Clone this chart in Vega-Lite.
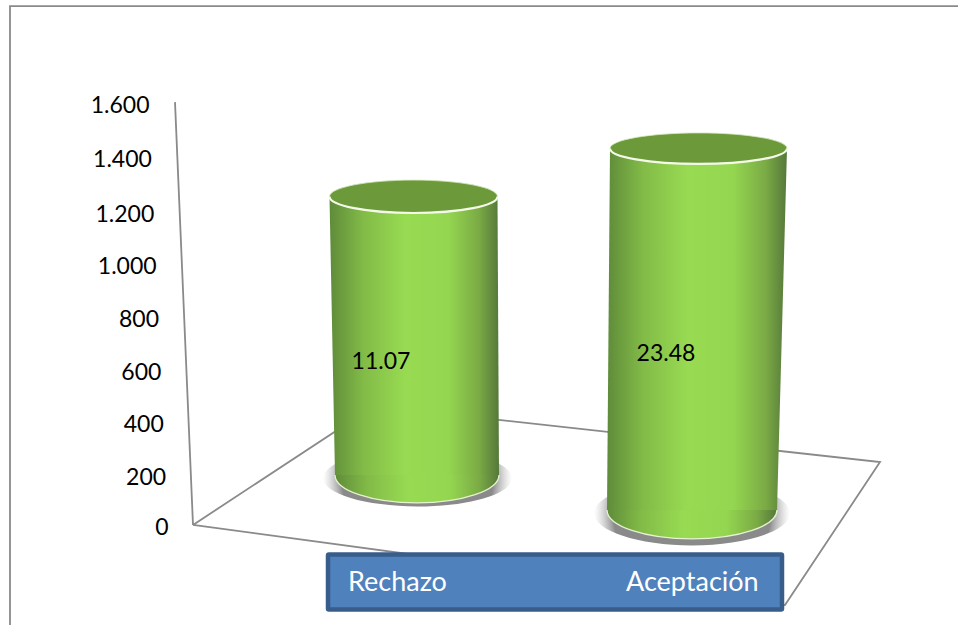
{
"$schema":"https://vega.github.io/schema/vega-lite/v6.json",
"width":958,"height":625,"padding":0,"autosize":{"type":"none"},
"background":"white",
"config":{"view":{"stroke":null},"font":"Lato"},
"datasets":{
"cilindros":[
{"categoria":"Rechazo","valor":1252,"base":194,"etiqueta":"11.07","xSup":413.5,"xInf":417,"xEtiqueta":381,"vEtiqueta":623,"xSombra":417.5,"vSombra":182},
{"categoria":"Aceptación","valor":1435,"base":61,"etiqueta":"23.48","xSup":698.5,"xInf":692,"xEtiqueta":666,"vEtiqueta":654,"xSombra":692,"vSombra":49}
],
"cuerpos":[
{"categoria":"Rechazo","v":1252,"izq":329.5,"der":497.5},
{"categoria":"Rechazo","v":194,"izq":335,"der":499},
{"categoria":"Aceptación","v":1435,"izq":610,"der":787},
{"categoria":"Aceptación","v":61,"izq":607,"der":777}
],
"lineas":[
{"grupo":"marco","orden":1,"x":10,"v":-376},
{"grupo":"marco","orden":2,"x":10,"v":1976},
{"grupo":"marco","orden":3,"x":958,"v":1976},
{"grupo":"eje","orden":1,"x":175,"v":1611},
{"grupo":"eje","orden":2,"x":193,"v":4},
{"grupo":"suelo","orden":1,"x":193,"v":4},
{"grupo":"suelo","orden":2,"x":374,"v":456},
{"grupo":"suelo","orden":3,"x":880,"v":243},
{"grupo":"suelo","orden":4,"x":785,"v":-300},
{"grupo":"suelo","orden":5,"x":193,"v":4}
],
"leyenda":[
{"x0":328,"x1":782,"v0":-108,"v1":-317}
],
"nombres":[
{"nombre":"Rechazo","x":348,"v":-217},
{"nombre":"Aceptación","x":626,"v":-217}
]
},
"layer":[
{"data":{"name":"lineas"},
 "mark":{"type":"line","color":"#8a8a8a","strokeWidth":1.8},
 "encoding":{
  "x":{"field":"x","type":"quantitative","scale":{"domain":[0,958],"nice":false,"zero":false},"axis":null},
  "y":{"field":"v","type":"quantitative","scale":{"domain":[-376.25,1999],"nice":false,"zero":false},
   "axis":{"values":[0,200,400,600,800,1000,1200,1400,1600],"orient":"left","offset":-175,"title":null,"domain":false,"ticks":false,"grid":false,
    "labelFont":"Lato","labelFontSize":23,"labelColor":"#000000","labelFlush":false,"labelOverlap":false,
    "labelPadding":{"expr":"7+19*datum.value/1600"},
    "labelOffset":{"expr":"datum.value==1600?1:datum.value==1400?2:datum.value==0?2:4"},
    "labelExpr":"replace(format(datum.value,','),',','.')"}},
  "detail":{"field":"grupo"},
  "order":{"field":"orden","type":"quantitative"}}},
{"data":{"name":"cilindros"},
 "mark":{"type":"point","filled":true,"opacity":1,"fill":{"gradient":"radial","x1":0.5,"y1":0.5,"r1":0,"x2":0.5,"y2":0.5,"r2":0.5,"stops":[{"offset":0,"color":"#8a8a8a"},{"offset":0.8,"color":"#8a8a8a"},{"offset":1,"color":"rgba(190,190,190,0)"}]}},
 "encoding":{
  "x":{"field":"xSombra","type":"quantitative"},
  "y":{"field":"vSombra","type":"quantitative"},
  "shape":{"condition":{"test":"datum.categoria==='Rechazo'","value":"M-1,0A1,0.3 0 1 1 1,0A1,0.3 0 1 1 -1,0Z"},"value":"M-1,0A1,0.33 0 1 1 1,0A1,0.33 0 1 1 -1,0Z"},
  "size":{"condition":{"test":"datum.categoria==='Rechazo'","value":35721},"value":38416}}},
{"data":{"name":"cuerpos"},
 "mark":{"type":"area","orient":"horizontal","fill":{"gradient":"linear","x1":0,"y1":0,"x2":1,"y2":0,"stops":[{"offset":0,"color":"#5f8b3a"},{"offset":0.2,"color":"#82bb47"},{"offset":0.45,"color":"#98db52"},{"offset":0.7,"color":"#94d650"},{"offset":0.88,"color":"#7bab45"},{"offset":1,"color":"#55783a"}]}},
 "encoding":{
  "y":{"field":"v","type":"quantitative","stack":null},
  "x":{"field":"izq","type":"quantitative"},
  "x2":{"field":"der"},
  "detail":{"field":"categoria"}}},
{"data":{"name":"cilindros"},
 "mark":{"type":"point","filled":true,"opacity":1,"stroke":"#e6f2d0","strokeWidth":1.3,"fill":{"gradient":"linear","x1":0,"y1":0,"x2":1,"y2":0,"stops":[{"offset":0,"color":"#5f8b3a"},{"offset":0.2,"color":"#82bb47"},{"offset":0.45,"color":"#98db52"},{"offset":0.7,"color":"#94d650"},{"offset":0.88,"color":"#7bab45"},{"offset":1,"color":"#55783a"}]}},
 "encoding":{
  "x":{"field":"xInf","type":"quantitative"},
  "y":{"field":"base","type":"quantitative"},
  "shape":{"value":"M-1,0A1,0.341 0 0 0 1,0"},
  "size":{"condition":{"test":"datum.categoria==='Rechazo'","value":26896},"value":28900}}},
{"data":{"name":"cilindros"},
 "mark":{"type":"point","filled":true,"opacity":1,"fill":"#6c9a3b","stroke":"#d5e8bd","strokeWidth":0.8},
 "encoding":{
  "x":{"field":"xSup","type":"quantitative"},
  "y":{"field":"valor","type":"quantitative"},
  "shape":{"condition":{"test":"datum.categoria==='Rechazo'","value":"M-1,0A1,0.196 0 1 1 1,0A1,0.196 0 1 1 -1,0Z"},"value":"M-1,0A1,0.175 0 1 1 1,0A1,0.175 0 1 1 -1,0Z"},
  "size":{"condition":{"test":"datum.categoria==='Rechazo'","value":28224},"value":31329}}},
{"data":{"name":"cilindros"},
 "mark":{"type":"point","filled":false,"opacity":1,"stroke":"#f4f9ea","strokeWidth":2.2},
 "encoding":{
  "x":{"field":"xSup","type":"quantitative"},
  "y":{"field":"valor","type":"quantitative"},
  "shape":{"condition":{"test":"datum.categoria==='Rechazo'","value":"M-1,0A1,0.196 0 0 0 1,0"},"value":"M-1,0A1,0.175 0 0 0 1,0"},
  "size":{"condition":{"test":"datum.categoria==='Rechazo'","value":28224},"value":31329}}},
{"data":{"name":"cilindros"},
 "mark":{"type":"text","font":"Lato","fontSize":23,"color":"#000000","align":"center","baseline":"middle"},
 "encoding":{
  "x":{"field":"xEtiqueta","type":"quantitative"},
  "y":{"field":"vEtiqueta","type":"quantitative"},
  "text":{"field":"etiqueta"}}},
{"data":{"name":"leyenda"},
 "mark":{"type":"rect","fill":"#4f81bd","stroke":"#385d8a","strokeWidth":4.5,"cornerRadius":1},
 "encoding":{
  "x":{"field":"x0","type":"quantitative"},
  "x2":{"field":"x1"},
  "y":{"field":"v0","type":"quantitative"},
  "y2":{"field":"v1"}}},
{"data":{"name":"nombres"},
 "mark":{"type":"text","font":"Lato","fontSize":27,"color":"#ffffff","align":"left","baseline":"middle"},
 "encoding":{
  "x":{"field":"x","type":"quantitative"},
  "y":{"field":"v","type":"quantitative"},
  "text":{"field":"nombre"}}}
]
}
